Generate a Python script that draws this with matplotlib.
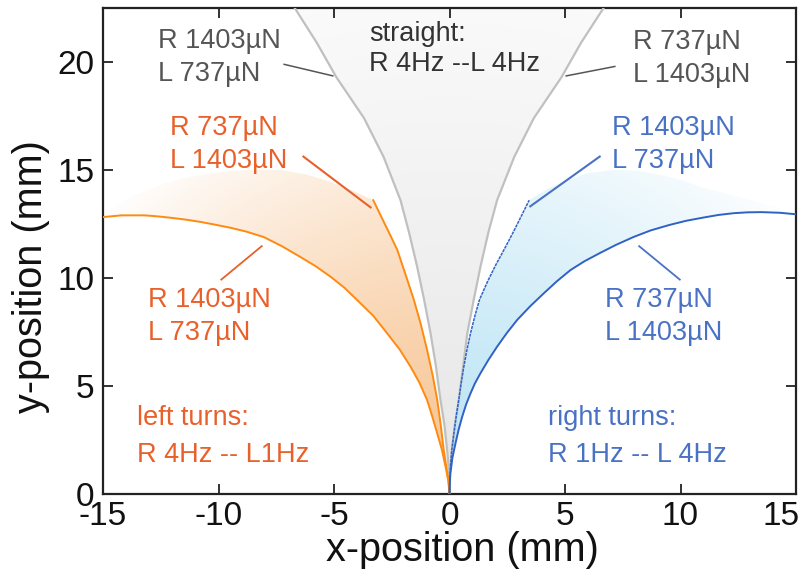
import numpy as np
import matplotlib
matplotlib.use('Agg')
import matplotlib.pyplot as plt
from matplotlib.path import Path
from matplotlib.patches import PathPatch
from matplotlib.transforms import ScaledTranslation

plt.rcParams['font.family'] = ['Liberation Sans', 'DejaVu Sans']
plt.rcParams['axes.unicode_minus'] = False

# ---------------- data ----------------
# straight trajectories (grey)
gray_left_x = [0, -0.02, -0.1, -0.22, -0.39, -0.6, -0.82, -1.1, -1.4, -1.75, -2.12, -2.85, -3.7, -4.9, -5.75, -6.7]
gray_left_y = [0, 1.0, 2.0, 3.2, 4.35, 6.0, 7.44, 9.0, 10.52, 12.1, 13.6, 15.6, 17.4, 19.3, 20.9, 22.5]
gray_right_x = [0, 0.02, 0.1, 0.23, 0.40, 0.6, 0.77, 1.05, 1.34, 1.68, 2.06, 2.8, 3.65, 4.85, 5.7, 6.67]
gray_right_y = [0, 1.0, 2.0, 3.2, 4.35, 6.0, 7.44, 9.0, 10.52, 12.1, 13.6, 15.6, 17.4, 19.3, 20.9, 22.5]

# left turns (orange)
orange_outer_x = [0, -0.05, -0.17, -0.33, -0.53, -0.75, -0.97, -1.3, -1.69, -2.15, -2.7, -3.3, -4.0, -4.55,
                  -5.15, -5.8, -6.5, -7.25, -8.05, -8.8, -9.5, -10.2, -10.8, -11.4, -12.0, -12.6, -13.2, -14.2, -15.0]
orange_outer_y = [0, 0.6, 1.26, 2.05, 2.8, 3.6, 4.35, 5.15, 5.9, 6.68, 7.44, 8.25, 8.98, 9.55,
                  10.06, 10.55, 11.0, 11.47, 11.9, 12.15, 12.33, 12.48, 12.6, 12.7, 12.78, 12.85, 12.9, 12.9, 12.82]
orange_inner_x = [0, -0.03, -0.1, -0.25, -0.38, -0.53, -0.73, -0.97, -1.24, -1.54, -1.9, -2.26, -2.55, -2.8, -3.05, -3.3]
orange_inner_y = [0, 0.5, 1.0, 2.04, 3.2, 4.35, 5.5, 6.67, 7.85, 8.98, 10.15, 11.3, 11.95, 12.5, 13.05, 13.6]
orange_spread_x = [-3.3, -4.2, -5.15, -6.2, -7.3, -8.4, -9.5, -10.6, -11.6, -12.4, -13.0, -13.6, -14.3, -15.0]
orange_spread_y = [13.6, 14.05, 14.45, 14.8, 15.0, 15.02, 14.95, 14.8, 14.6, 14.35, 14.1, 13.85, 13.45, 12.9]

# right turns (blue)
blue_outer_x = [0, 0.01, 0.04, 0.13, 0.26, 0.4, 0.55, 0.72, 0.91, 1.1, 1.34, 1.68, 2.06, 2.48, 2.93, 3.5,
                4.08, 4.65, 5.24, 5.85, 6.5, 7.2, 7.97, 8.7, 9.5, 10.25, 11.0, 11.65, 12.3, 12.9, 13.5, 14.3, 15.0]
blue_outer_y = [0, 0.45, 0.97, 1.7, 2.35, 3.0, 3.58, 4.15, 4.66, 5.12, 5.59, 6.2, 6.82, 7.45, 8.06, 8.7,
                9.29, 9.85, 10.37, 10.78, 11.15, 11.53, 11.9, 12.2, 12.45, 12.65, 12.8, 12.92, 13.0, 13.04, 13.05, 13.02, 12.95]
blue_inner_x = [0, 0.01, 0.04, 0.1, 0.19, 0.29, 0.4, 0.5, 0.62, 0.76, 0.91, 1.1, 1.3, 1.64, 2.0, 2.38, 2.75, 3.1, 3.45]
blue_inner_y = [0, 0.6, 1.26, 2.05, 2.8, 3.6, 4.35, 5.1, 5.9, 6.7, 7.44, 8.25, 9.0, 9.82, 10.6, 11.35, 12.1, 12.85, 13.6]
blue_spread_x = [3.45, 4.2, 5.0, 6.0, 7.1, 8.1, 9.0, 10.0, 10.9, 12.0, 13.0, 14.0, 15.0]
blue_spread_y = [13.6, 14.1, 14.5, 14.85, 15.0, 14.97, 14.8, 14.55, 14.2, 13.9, 13.6, 13.3, 12.95]

x_ticks = [-15, -10, -5, 0, 5, 10, 15]
y_ticks = [0, 5, 10, 15, 20]

# ---------------- styling ----------------
C_ORANGE_TXT = '#e8602a'
C_BLUE_TXT = '#4a72c4'
C_GRAY_TXT = '#555555'
C_DARK_TXT = '#333333'
C_ORANGE_LINE = '#ff8a10'
C_BLUE_LINE = '#2f62c4'
C_GRAY_LINE = '#c0c0c0'

fig = plt.figure(figsize=(8.06, 5.77), dpi=100)
ax = fig.add_axes([103/806, 1-494/577, 693/806, 486/577])

XMIN, XMAX, YMIN, YMAX = -15, 15, 0, 22.5


def grad_fill(xs, ys, c0, c1, rmax, power, zorder):
    verts = list(zip(xs, ys))
    verts.append(verts[0])
    path = Path(verts, closed=True)
    patch = PathPatch(path, facecolor='none', edgecolor='none')
    ax.add_patch(patch)
    gx, gy = np.meshgrid(np.linspace(XMIN, XMAX, 400), np.linspace(YMIN, YMAX, 400))
    r = np.hypot(gx, gy)
    t = np.clip(r / rmax, 0, 1) ** power
    t = t[..., None]
    img = (1 - t) * np.array(c0) + t * np.array(c1)
    im = ax.imshow(img, extent=[XMIN, XMAX, YMIN, YMAX], origin='lower',
                   aspect='auto', zorder=zorder, interpolation='bilinear')
    im.set_clip_path(patch)


def rgb(h):
    h = h.lstrip('#')
    return [int(h[i:i+2], 16) / 255 for i in (0, 2, 4)]


# grey band
gx = gray_left_x + gray_right_x[::-1]
gy = gray_left_y + gray_right_y[::-1]
grad_fill(gx, gy, rgb('#e6e6e6'), rgb('#fafafa'), 23, 1.0, 1)

# orange band
ox = orange_inner_x + orange_spread_x[1:] + orange_outer_x[::-1]
oy = orange_inner_y + orange_spread_y[1:] + orange_outer_y[::-1]
grad_fill(ox, oy, rgb('#f7c594'), rgb('#ffffff'), 20, 1.4, 1)

# blue band
bx = blue_inner_x + blue_spread_x[1:] + blue_outer_x[::-1]
by = blue_inner_y + blue_spread_y[1:] + blue_outer_y[::-1]
grad_fill(bx, by, rgb('#bce4f5'), rgb('#ffffff'), 20, 1.4, 1)

# trajectories
ax.plot(gray_left_x, gray_left_y, color=C_GRAY_LINE, lw=1.6, zorder=3)
ax.plot(gray_right_x, gray_right_y, color=C_GRAY_LINE, lw=1.6, zorder=3)
ax.plot(orange_outer_x, orange_outer_y, color=C_ORANGE_LINE, lw=1.4, zorder=3)
ax.plot(orange_inner_x, orange_inner_y, color=C_ORANGE_LINE, lw=1.4, zorder=3)
ax.plot(blue_outer_x, blue_outer_y, color=C_BLUE_LINE, lw=1.4, zorder=3)
ax.plot(blue_inner_x, blue_inner_y, color=C_BLUE_LINE, lw=1.1, ls=(0, (2, 0.6)), zorder=3)

# leader lines
leaders = [
    ([-7.19, -5.02], [19.9, 19.35], C_GRAY_TXT, 1.1),
    ([5.02, 7.19], [19.35, 19.8], C_GRAY_TXT, 1.1),
    ([-6.36, -3.38], [15.65, 13.24], C_ORANGE_TXT, 1.5),
    ([6.54, 3.46], [15.65, 13.29], C_BLUE_TXT, 1.5),
    ([-9.91, -8.1], [9.9, 11.5], C_ORANGE_TXT, 1.3),
    ([8.18, 10.0], [11.5, 9.9], C_BLUE_TXT, 1.3),
]
for lx, ly, c, w in leaders:
    ax.plot(lx, ly, color=c, lw=w, zorder=4, solid_capstyle='butt')


def px2data(px, py):
    return (XMIN + (px - 103) / 693 * (XMAX - XMIN), YMAX - (py - 8) / 486 * (YMAX - YMIN))


labels = [
    (158, 48, 'R 1403µN', C_GRAY_TXT),
    (158, 81, 'L 737µN', C_GRAY_TXT),
    (369, 41, 'straight:', C_DARK_TXT),
    (369, 71, 'R 4Hz --L 4Hz', C_DARK_TXT),
    (633, 49, 'R 737µN', C_GRAY_TXT),
    (633, 82, 'L 1403µN', C_GRAY_TXT),
    (170, 135, 'R 737µN', C_ORANGE_TXT),
    (170, 168, 'L 1403µN', C_ORANGE_TXT),
    (612, 135, 'R 1403µN', C_BLUE_TXT),
    (612, 168, 'L 737µN', C_BLUE_TXT),
    (148, 307, 'R 1403µN', C_ORANGE_TXT),
    (148, 340, 'L 737µN', C_ORANGE_TXT),
    (605, 307, 'R 737µN', C_BLUE_TXT),
    (605, 340, 'L 1403µN', C_BLUE_TXT),
    (137, 425, 'left turns:', C_ORANGE_TXT),
    (137, 462, 'R 4Hz -- L1Hz', C_ORANGE_TXT),
    (548, 425, 'right turns:', C_BLUE_TXT),
    (548, 462, 'R 1Hz -- L 4Hz', C_BLUE_TXT),
]
for px, py, s, c in labels:
    x, y = px2data(px, py)
    ax.text(x, y, s, color=c, fontsize=19.5, ha='left', va='baseline', zorder=5)

ax.set_xlim(XMIN, XMAX)
ax.set_ylim(YMIN, YMAX)
ax.set_xticks(x_ticks)
ax.set_yticks(y_ticks)
ax.set_xticklabels([str(v) for v in x_ticks])
ax.set_yticklabels([str(v) for v in y_ticks])
ax.tick_params(direction='in', length=7, width=1.3, color='#222222',
               labelsize=24, labelcolor='#111111', top=True, right=True,
               labeltop=False, labelright=False)
ax.tick_params(axis='x', pad=5)
ax.tick_params(axis='y', pad=6)
for s in ax.spines.values():
    s.set_linewidth(1.6)
    s.set_color('#222222')

# last x tick label sits slightly left of its tick, as in the reference
lab = ax.get_xticklabels()[-1]
lab.set_transform(lab.get_transform() + ScaledTranslation(-0.15, 0, fig.dpi_scale_trans))

ax.set_xlabel('x-position (mm)', fontsize=28.5, color='#111111')
ax.set_ylabel('y-position (mm)', fontsize=28.5, color='#111111')
ax.xaxis.set_label_coords((462 - 103) / 693, -(531 - 494) / 486)
ax.yaxis.set_label_coords((50 - 103) / 693, (494 - 277) / 486)

fig.savefig('out.png', dpi=100)
